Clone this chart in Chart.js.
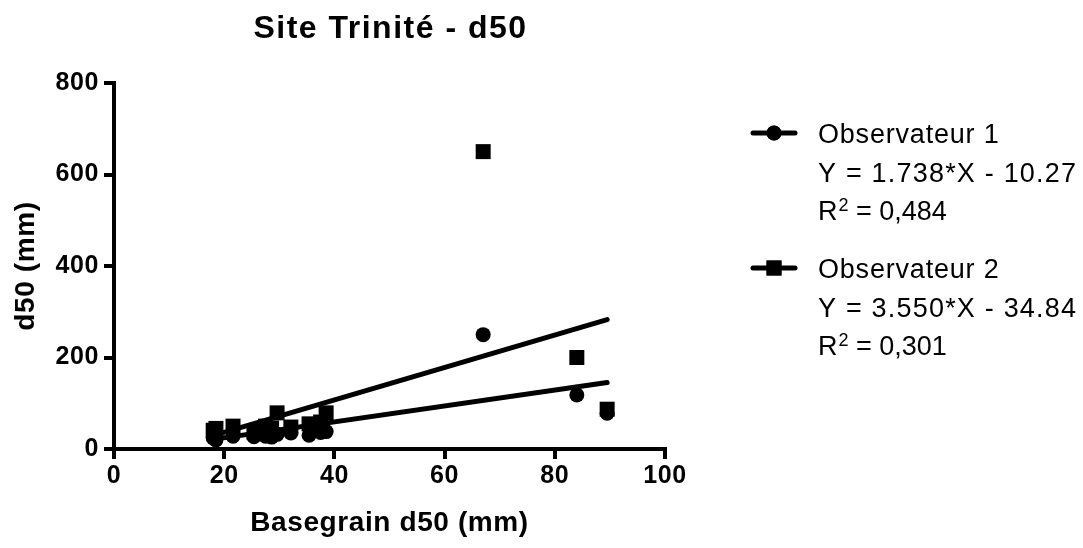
<!DOCTYPE html>
<html>
<head>
<meta charset="utf-8">
<script src="https://cdn.jsdelivr.net/npm/chart.js@4.4.1/dist/chart.umd.min.js"></script>
<style>
  html, body { margin: 0; padding: 0; background: #fff; }
  #wrap { width: 1083px; height: 548px; position: relative; }
</style>
</head>
<body>
<div id="wrap"><canvas id="c"></canvas></div>
<script>
// Basegrain d50 per station (mm) and the d50 read by each observer (mm)
const basegrainD50 = [18, 18.5, 21.6, 25.4, 27.5, 28.6, 29.6, 32.1, 35.4, 37.5, 38.5, 67, 84, 89.5];
const observer1D50 = [24, 20, 28, 27, 28, 26, 32, 35, 30, 36, 38, 250, 118, 78];
const observer2D50 = [41, 45, 50, 37, 50, 46, 79, 48, 55, 59, 79, 650, 200, 87];

const seriesNames = ['Observateur 1', 'Observateur 2'];
const fitSlopes = [1.738, 3.550];
const fitIntercepts = [-10.27, -34.84];
const fitR2 = [0.484, 0.301];

const xTicks = [0, 20, 40, 60, 80, 100];
const yTicks = [0, 200, 400, 600, 800];

const chartTitle = 'Site Trinité - d50';
const xTitle = 'Basegrain d50 (mm)';
const yTitle = 'd50 (mm)';

const FONT = '"Liberation Sans", Arial, Helvetica, sans-serif';

function points(ys) {
  return basegrainD50.map((x, i) => ({ x: x, y: ys[i] }));
}
function fitLine(k) {
  const lo = Math.min(...basegrainD50);
  const hi = Math.max(...basegrainD50);
  return [lo, hi].map(x => ({ x: x, y: fitSlopes[k] * x + fitIntercepts[k] }));
}
function equation(k) {
  const b = fitIntercepts[k];
  return 'Y = ' + fitSlopes[k].toFixed(3) + '*X ' + (b < 0 ? '- ' : '+ ') + Math.abs(b).toFixed(2);
}
function r2Text(k) {
  return ' = ' + fitR2[k].toFixed(3).replace('.', ',');
}

// Slight letter tracking for the axis text
const trackingPlugin = {
  id: 'tracking',
  beforeDraw(chart) { chart.ctx.letterSpacing = '0.6px'; }
};

// Title and the legend block with the fit equations
const titleLegendPlugin = {
  id: 'titleLegend',
  afterDraw(chart) {
    const ctx = chart.ctx;
    const ca = chart.chartArea;
    ctx.save();
    ctx.fillStyle = '#000';
    ctx.strokeStyle = '#000';
    ctx.textBaseline = 'alphabetic';

    ctx.letterSpacing = '1.5px';
    ctx.font = 'bold 32px ' + FONT;
    ctx.textAlign = 'center';
    ctx.fillText(chartTitle, (ca.left + ca.right) / 2 + 1, 38);

    ctx.textAlign = 'left';
    const styles = ['circle', 'rect'];
    const radii = [7.5, 10.6];
    for (let k = 0; k < 2; k++) {
      const base = 143 + k * 135;
      const symY = base - 10;
      ctx.lineWidth = 5;
      ctx.lineCap = 'round';
      ctx.beginPath();
      ctx.moveTo(753, symY);
      ctx.lineTo(795, symY);
      ctx.stroke();
      Chart.helpers.drawPoint(ctx, { pointStyle: styles[k], radius: radii[k], rotation: 0, borderWidth: 0 }, 774, symY);
      ctx.fill();

      ctx.font = '27px ' + FONT;
      ctx.letterSpacing = '0.8px';
      ctx.fillText(seriesNames[k], 818, base);
      ctx.letterSpacing = '1.2px';
      ctx.fillText(equation(k), 818, base + 38.5);
      ctx.letterSpacing = '0px';
      const rBase = base + 77;
      ctx.fillText('R', 818, rBase);
      const rw = ctx.measureText('R').width;
      ctx.font = '18px ' + FONT;
      ctx.fillText('2', 818 + rw + 1, rBase - 9);
      const sw = ctx.measureText('2').width;
      ctx.font = '27px ' + FONT;
      ctx.fillText(r2Text(k), 818 + rw + sw + 1, rBase);
    }
    ctx.restore();
  }
};

const tickFont = { family: FONT, size: 25, weight: 'bold' };
const titleFont = { family: FONT, size: 28, weight: 'bold' };
const axisGrid = { drawOnChartArea: false, tickLength: 10, tickWidth: 4, lineWidth: 4, color: '#000', tickColor: '#000' };

new Chart(document.getElementById('c'), {
  type: 'scatter',
  data: {
    datasets: [
      { label: seriesNames[0] + ' (fit)', type: 'line', data: fitLine(0), borderColor: '#000', borderWidth: 5,
        borderCapStyle: 'round', pointRadius: 0, fill: false, order: 0 },
      { label: seriesNames[1] + ' (fit)', type: 'line', data: fitLine(1), borderColor: '#000', borderWidth: 5,
        borderCapStyle: 'round', pointRadius: 0, fill: false, order: 0 },
      { label: seriesNames[0], data: points(observer1D50), pointStyle: 'circle', pointRadius: 7.5,
        backgroundColor: '#000', borderColor: '#000', borderWidth: 0, order: 2 },
      { label: seriesNames[1], data: points(observer2D50), pointStyle: 'rect', pointRadius: 10.6,
        backgroundColor: '#000', borderColor: '#000', borderWidth: 0, order: 1 }
    ]
  },
  options: {
    responsive: true,
    maintainAspectRatio: false,
    animation: false,
    layout: { padding: { left: 0, top: 83, right: 418, bottom: 0 } },
    plugins: { legend: { display: false }, tooltip: { enabled: false } },
    scales: {
      x: {
        type: 'linear',
        min: xTicks[0], max: xTicks[xTicks.length - 1],
        ticks: { stepSize: xTicks[1] - xTicks[0], font: tickFont, color: '#000', padding: 2, maxRotation: 0 },
        grid: axisGrid,
        border: { color: '#000', width: 4 },
        title: { display: true, text: xTitle, font: titleFont, color: '#000', padding: { top: 0, bottom: 8 } },
        afterFit(s) { s.height = 99; }
      },
      y: {
        type: 'linear',
        min: yTicks[0], max: yTicks[yTicks.length - 1],
        ticks: { stepSize: yTicks[1] - yTicks[0], font: tickFont, color: '#000', padding: 5 },
        grid: axisGrid,
        border: { color: '#000', width: 4 },
        title: { display: true, text: yTitle, font: titleFont, color: '#000', padding: { top: 9, bottom: 0 } },
        afterFit(s) { s.width = 114; }
      }
    }
  },
  plugins: [trackingPlugin, titleLegendPlugin]
});
</script>
</body>
</html>
